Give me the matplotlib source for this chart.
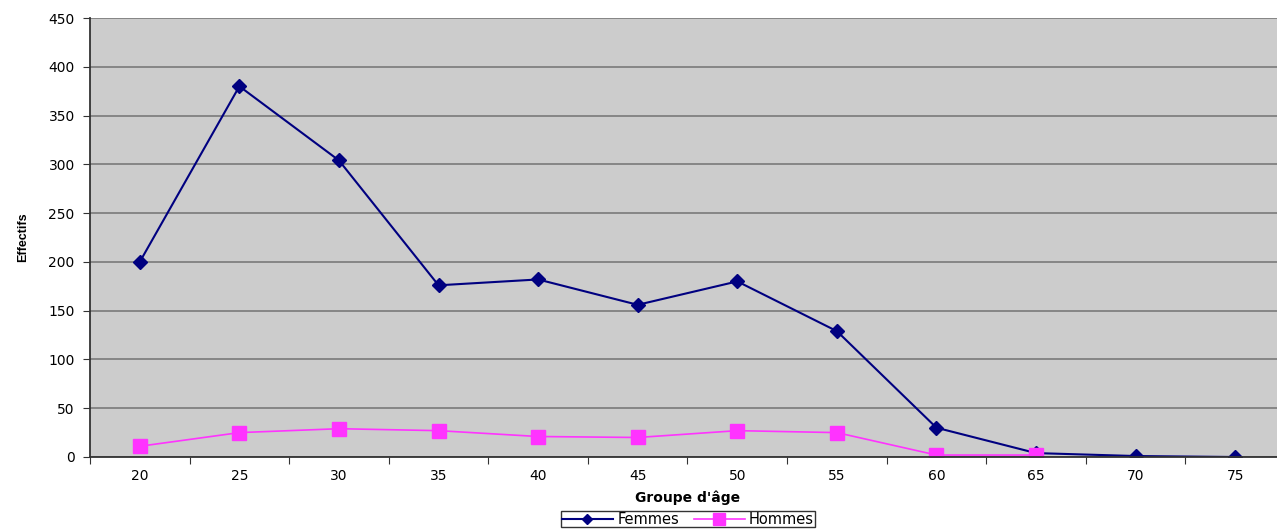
import matplotlib.pyplot as plt
import numpy as np

plt.rcParams['font.family'] = ['DejaVu Sans']

ages = ['20', '25', '30', '35', '40', '45', '50', '55', '60', '65', '70', '75']
femmes = [200, 380, 304, 176, 182, 156, 180, 129, 30, 4, 1, 0]
hommes = [11, 25, 29, 27, 21, 20, 27, 25, 2, 2]

fig = plt.figure(figsize=(12.77, 5.29), dpi=100)
ax = fig.add_axes([90 / 1277, 72 / 529, 1195 / 1277, 439 / 529])
ax.set_facecolor('#cccccc')

x = np.arange(len(ages))
ax.plot(x, femmes, color='#000080', lw=1.5, marker='D', ms=7, label='Femmes')
ax.plot(x[:len(hommes)], hommes, color='#ff33ff', lw=1.2, marker='s', ms=10,
        label='Hommes')

ax.set_xlim(-0.5, len(ages) - 0.5)
ax.set_ylim(0, 450)
ax.set_yticks(np.arange(0, 451, 50))
ax.yaxis.grid(True, color='#808080', lw=1.3)
ax.set_axisbelow(True)

# ticks between the groups, labels centred on them
ax.set_xticks(np.arange(-0.5, len(ages) + 0.5, 1))
ax.set_xticklabels([])
ax.set_xticks(x, minor=True)
ax.set_xticklabels(ages, minor=True)
ax.tick_params(axis='x', which='minor', length=0, pad=9)
ax.tick_params(axis='both', which='major', length=5, color='#333333',
               labelsize=10)
ax.tick_params(axis='x', which='minor', labelsize=10)
ax.tick_params(axis='y', pad=6)

for s in ['top', 'right']:
    ax.spines[s].set_visible(False)
for s in ['left', 'bottom']:
    ax.spines[s].set_color('#333333')
    ax.spines[s].set_linewidth(1.3)

ax.set_xlabel("Groupe d'âge", fontsize=10, fontweight='bold', labelpad=5)
ax.set_ylabel('Effectifs', fontsize=9, fontweight='bold', labelpad=14,
              family='Liberation Sans')

fig.legend(loc='upper center', bbox_to_anchor=(688 / 1277, 1 - 511 / 529),
           ncol=2, fontsize=10.5, frameon=True, fancybox=False,
           edgecolor='black', borderpad=0.05, handlelength=3.5,
           columnspacing=1.0, handletextpad=0.3, markerscale=0.8,
           borderaxespad=0)

fig.savefig('out.png', dpi=100)
